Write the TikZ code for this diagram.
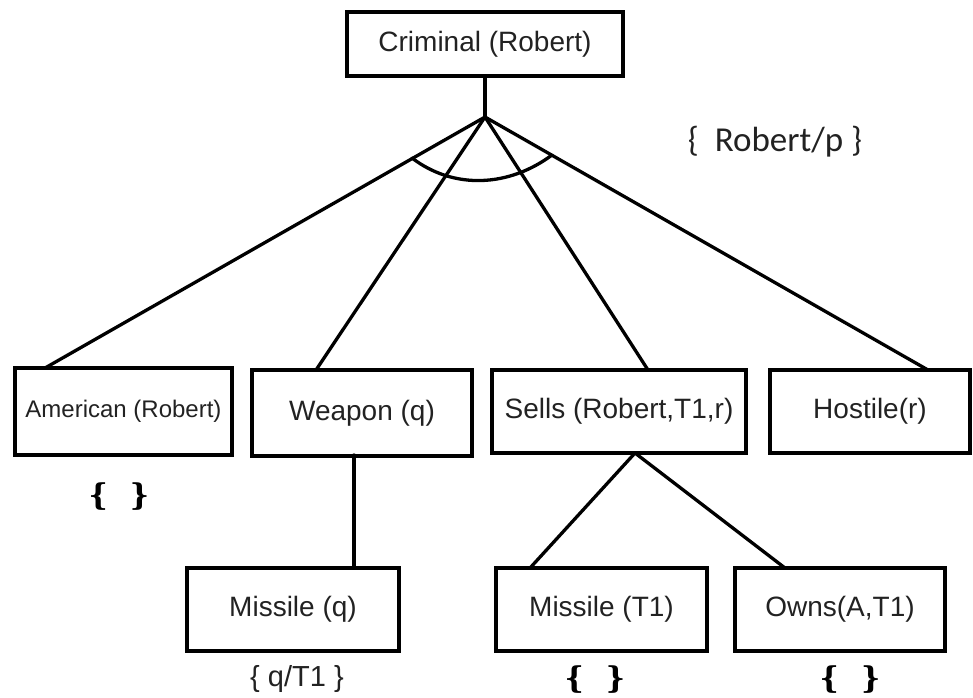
\documentclass[tikz,border=0pt]{standalone}
\usepackage{fontspec}
\setmainfont{Liberation Sans}
\newfontfamily\calfont{Carlito}
\newfontfamily\bracefont{DejaVu Serif}
\definecolor{txt}{HTML}{222222}
\begin{document}
\begin{tikzpicture}[x=1pt,y=-1pt,
  box/.style={draw=black,line width=3.3pt,rectangle,inner sep=0pt,text=txt,font=\fontsize{28}{33}\selectfont},
  conn/.style={line width=3.3pt,line cap=round},
  bb/.style={inner sep=0pt,text=black,font=\bracefont\bfseries\fontsize{30}{36}\selectfont},
  subst/.style={inner sep=0pt,text=txt,font=\fontsize{29}{34}\selectfont}]
\useasboundingbox (0,0) rectangle (973,697);
% boxes
\node[box,minimum width=276pt,minimum height=64pt] (crim) at (485,44) {Criminal (Robert)};
\node[box,minimum width=217pt,minimum height=87pt,font=\fontsize{24}{29}\selectfont] (amer) at (123.5,411.5) {American (Robert)};
\node[box,minimum width=220pt,minimum height=86pt] (weap) at (362,413) {Weapon (q)};
\node[box,minimum width=254pt,minimum height=83pt] (sells) at (619,411.5) {Sells (Robert,T1,r)};
\node[box,minimum width=200pt,minimum height=83pt] (host) at (870,411.5) {Hostile(r)};
\node[box,minimum width=212pt,minimum height=83pt] (misq) at (293,609.5) {Missile (q)};
\node[box,minimum width=211pt,minimum height=83pt] (mist) at (601.5,609.5) {Missile (T1)};
\node[box,minimum width=210pt,minimum height=83pt] (owns) at (840,609.5) {Owns(A,T1)};
% connector points
\coordinate (apex) at (485,117);
\coordinate (ea) at (45,368);
\coordinate (ew) at (316,370);
\coordinate (es) at (648,370);
\coordinate (eh) at (928,370);
\coordinate (wb) at (354,455);
\coordinate (mt) at (354,568);
\coordinate (sb) at (635,453);
\coordinate (ml) at (530,568);
\coordinate (mr) at (785,568);
% connectors
\draw[conn] (crim.south) -- (apex);
\draw[conn] (apex) -- (ea);
\draw[conn] (apex) -- (ew);
\draw[conn] (apex) -- (es);
\draw[conn] (apex) -- (eh);
\draw[conn] (412,158) .. controls (454,190) and (509,187) .. (552,155);
\draw[conn] (wb) -- (mt);
\draw[conn] (sb) -- (ml);
\draw[conn] (sb) -- (mr);
% substitutions
\node[inner sep=0pt,text=txt,font=\calfont\fontsize{35}{40}\selectfont] (rp) at (775,142) {\{\ \ Robert/p \}};
\node[bb] (b1) at (119,497) {\{\hspace{22pt}\}};
\node[subst] (b2) at (297,679) {\{ q/T1 \}};
\node[bb] (b3) at (595,680) {\{\hspace{22pt}\}};
\node[bb] (b4) at (850,680) {\{\hspace{22pt}\}};
\end{tikzpicture}
\end{document}
